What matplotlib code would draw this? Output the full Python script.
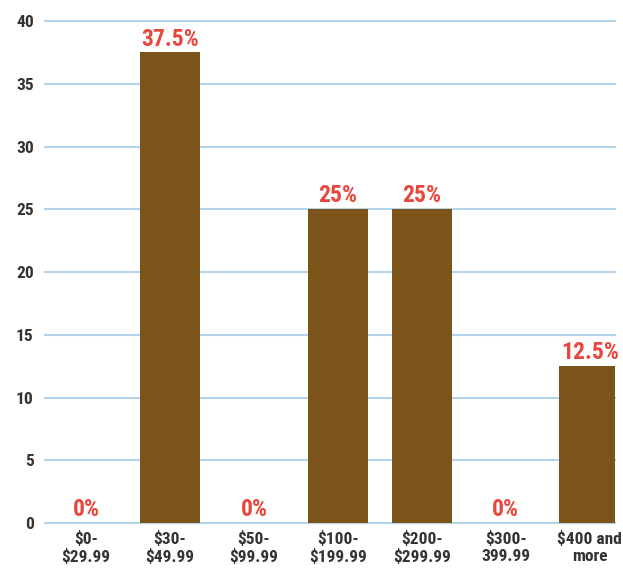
import matplotlib
matplotlib.use('Agg')
import matplotlib.pyplot as plt

# price ranges and share of responses (%)
categories = ['$0-\n$29.99', '$30-\n$49.99', '$50-\n$99.99', '$100-\n$199.99',
              '$200-\n$299.99', '$300-\n399.99', '$400 and\nmore']
shares = [0, 37.5, 0, 25, 25, 0, 12.5]
share_labels = ['0%', '37.5%', '0%', '25%', '25%', '0%', '12.5%']
y_ticks = [0, 5, 10, 15, 20, 25, 30, 35, 40]

FONT = ['Roboto Condensed', 'DejaVu Sans']
BAR_COLOR = '#7a5419'
LABEL_COLOR = '#e8473e'
GRID_COLOR = '#b3d4ea'

fig = plt.figure(figsize=(6.23, 5.75), dpi=100)
ax = fig.add_axes([0.072, 0.0904, 0.915, 0.873])

x = list(range(len(categories)))
ax.bar(x, shares, width=0.72, color=BAR_COLOR, zorder=3)

for xi, val, lab in zip(x, shares, share_labels):
    ax.text(xi, val + 0.15, lab, ha='center', va='bottom', color=LABEL_COLOR,
            fontsize=17, fontweight='bold', family=FONT, zorder=4)

ax.set_xlim(-0.49, 6.3)
ax.set_ylim(0, 40)
ax.set_yticks(y_ticks)
ax.set_yticklabels([str(v) for v in y_ticks], family=FONT, fontsize=12.5,
                   fontweight='bold', color='#333333')
ax.set_xticks(x)
ax.set_xticklabels(categories, family=FONT, fontsize=12.5, fontweight='bold',
                   color='#333333', linespacing=1.1)

for v in y_ticks:
    ax.axhline(v, color=GRID_COLOR, linewidth=1.5, zorder=1, clip_on=False)

for side in ['top', 'right', 'left', 'bottom']:
    ax.spines[side].set_visible(False)
ax.tick_params(axis='both', length=0)
ax.tick_params(axis='y', pad=8)
ax.tick_params(axis='x', pad=6)

plt.savefig('out.png', dpi=100)
plt.close()
